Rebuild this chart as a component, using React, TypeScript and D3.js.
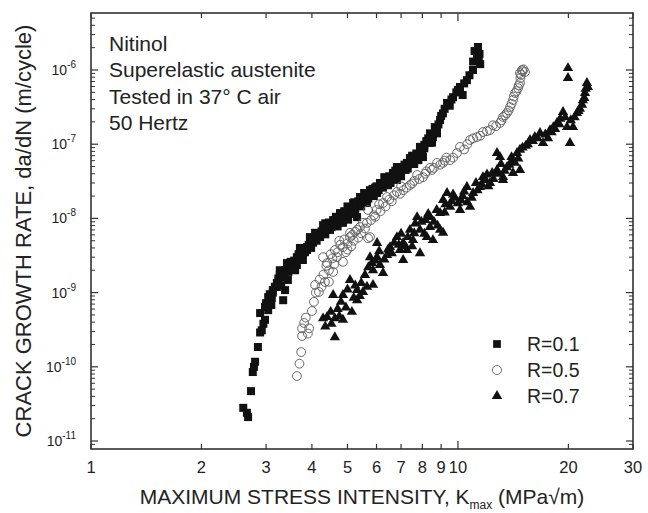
import React from 'react';
import * as d3 from 'd3';

const W = 648;
const H = 513;

const xTickValues = [1, 2, 3, 4, 5, 6, 7, 8, 9, 10, 20, 30];
const yDecadeExps = [-11, -10, -9, -8, -7, -6];
const annotationLines = ['Nitinol', 'Superelastic austenite', 'Tested in 37° C air', '50 Hertz'];
const seriesNames = ['R=0.1', 'R=0.5', 'R=0.7'];

// R = 0.1 (filled squares): Kmax (MPa√m), da/dN (m/cycle)
const r01K = [2.60, 2.68, 2.66, 2.73, 2.76, 2.78, 2.80, 2.85, 2.89, 2.92, 2.89, 2.98, 2.98, 3.04, 3.04, 3.11, 3.13, 3.13, 3.21, 3.21,
  3.27, 3.27, 3.34, 3.38, 3.44, 3.38, 3.42, 3.49, 3.55, 3.64, 3.64, 3.71, 3.71, 3.78, 3.78, 3.88, 3.88, 3.95, 4.03, 4.08,
  4.21, 4.29, 4.40, 4.48, 4.57, 4.57, 4.77, 4.77, 4.86, 5.08, 5.18, 5.31, 5.41, 5.51, 5.65, 5.76, 6.02, 6.13, 6.41, 6.65,
  6.82, 6.82, 7.09, 7.26, 7.54, 7.74, 7.88, 7.88, 8.03, 8.39, 8.39, 8.55, 8.77, 8.77, 8.94, 9.34, 9.70, 10.13, 10.58, 10.99,
  11.27, 11.34, 11.1, 11.5, 11.45, 9.1, 9.9, 10.3, 4.65, 4.95, 5.0, 5.25, 5.35, 5.6, 5.9, 5.95, 6.25, 6.3, 6.55, 6.95,
  7.2, 7.4, 7.6, 8.1, 8.2,
  2.95, 3.0, 3.07, 3.1, 3.17, 3.24, 3.3, 3.31, 3.36, 3.45, 3.5, 3.58, 3.6, 3.68, 3.75, 3.83, 3.92, 3.98, 4.0, 4.12,
  4.15, 4.25, 4.35, 4.35, 4.45, 4.52, 4.62, 4.7, 4.72, 4.82, 4.9, 5.02, 5.12, 5.15, 5.22, 5.3, 5.45, 5.48, 5.55, 5.7,
  5.75, 5.85, 6.0, 6.08, 6.2, 6.35, 6.45, 6.5, 6.7, 6.75, 6.9, 7.0, 7.15, 7.3, 7.45, 7.5, 7.7, 7.8, 8.0, 8.1,
  8.3, 8.5, 8.65, 8.85, 9.0, 9.2, 9.5, 9.6, 10.0, 10.4, 10.75, 11.0, 11.4];
const r01Rate = [2.8e-11, 2.1e-11, 2.4e-11, 4.7e-11, 8.5e-11, 1.0e-10, 1.17e-10, 1.85e-10, 2.9e-10, 3.1e-10, 5.3e-10, 4.3e-10, 6.4e-10, 5.8e-10, 8.7e-10, 8.5e-10, 1.0e-9, 1.08e-9, 1.19e-9, 1.35e-9,
  1.73e-9, 2.0e-9, 7.9e-10, 1.08e-9, 1.48e-9, 2.0e-9, 2.5e-9, 2.2e-9, 2.2e-9, 2.35e-9, 3.0e-9, 2.75e-9, 4.0e-9, 3.4e-9, 2.75e-9, 4.1e-9, 3.75e-9, 5.6e-9, 4.7e-9, 6.4e-9,
  5.6e-9, 8.1e-9, 7.0e-9, 7.0e-9, 8.1e-9, 9.5e-9, 8.9e-9, 1.18e-8, 8.7e-9, 1.3e-8, 1.61e-8, 1.04e-8, 1.94e-8, 1.94e-8, 1.61e-8, 2.4e-8, 2.2e-8, 3.0e-8, 3.3e-8, 4.1e-8,
  3.3e-8, 4.93e-8, 4.9e-8, 5.6e-8, 6.1e-8, 6.7e-8, 8.4e-8, 9.2e-8, 6.7e-8, 1.04e-7, 1.4e-7, 1.25e-7, 1.4e-7, 1.55e-7, 2.12e-7, 3.6e-7, 4.3e-7, 5.9e-7, 7.3e-7, 1.0e-6,
  1.5e-6, 2.04e-6, 1.8e-6, 1.2e-6, 1.65e-6, 2.6e-7, 5.0e-7, 4.6e-7, 1.05e-8, 1.1e-8, 1.45e-8, 1.3e-8, 1.7e-8, 2.1e-8, 2.0e-8, 2.6e-8, 2.6e-8, 3.6e-8, 3.0e-8, 4.0e-8,
  4.5e-8, 6.5e-8, 5.4e-8, 8.8e-8, 1.1e-7,
  3.8e-10, 7.2e-10, 9.5e-10, 6.8e-10, 1.2e-9, 1.55e-9, 1.25e-9, 1.85e-9, 1.6e-9, 1.9e-9, 2.6e-9, 2.7e-9, 2.0e-9, 3.3e-9, 3.1e-9, 3.5e-9, 4.4e-9, 4.0e-9, 5.3e-9, 5.0e-9,
  6.0e-9, 6.7e-9, 6.1e-9, 8.6e-9, 8.8e-9, 7.6e-9, 9.0e-9, 7.8e-9, 1.0e-8, 1.0e-8, 1.25e-8, 9.6e-9, 1.15e-8, 1.4e-8, 1.65e-8, 1.5e-8, 1.45e-8, 1.75e-8, 2.2e-8, 1.85e-8,
  2.05e-8, 2.5e-8, 2.7e-8, 2.4e-8, 2.9e-8, 3.2e-8, 2.8e-8, 3.7e-8, 3.6e-8, 4.4e-8, 4.6e-8, 3.7e-8, 5.3e-8, 4.7e-8, 5.8e-8, 7.0e-8, 7.5e-8, 6.1e-8, 7.6e-8, 9.8e-8,
  1.2e-7, 1.05e-7, 1.7e-7, 1.85e-7, 2.4e-7, 3.0e-7, 3.3e-7, 4.0e-7, 5.4e-7, 6.6e-7, 8.5e-7, 1.3e-6, 1.4e-6];

// R = 0.5 (open circles)
const r05K = [3.64, 3.74, 3.76, 3.81, 3.93, 3.76, 4.00, 4.08, 4.18, 4.34, 4.29, 4.45, 4.57, 4.62, 4.68, 4.86, 4.86, 4.75, 4.95, 5.08,
  5.08, 5.0, 5.2, 5.31, 5.41, 5.51, 5.69, 5.65, 5.76, 5.69, 5.9, 6.25, 6.41, 6.6, 6.82, 7.1, 7.40, 7.74, 8.03, 8.39,
  8.77, 9.11, 9.52, 9.94, 10.13, 10.4, 10.79, 11.27, 11.70, 12.23, 12.46, 13.02, 13.27, 13.60, 13.87, 14.13, 14.31, 14.58, 14.76, 14.76,
  15.23, 14.95, 15.1, 4.2, 4.45, 4.4, 4.55, 6.0, 6.1, 7.0, 7.6, 8.2, 8.6, 9.3,
  3.7, 3.85, 3.9, 4.05, 4.1, 4.25, 4.3, 4.38, 4.5, 4.6, 4.7, 4.78, 4.9, 5.0, 5.12, 5.15, 5.25, 5.35, 5.45, 5.58,
  5.8, 5.95, 6.15, 6.35, 6.5, 6.7, 6.95, 7.25, 7.5, 7.85, 8.15, 8.5, 8.95, 9.2, 9.7, 10.6, 11.0, 11.5, 12.0, 12.7,
  13.15, 13.45, 13.75, 14.0, 14.2, 14.45, 14.65, 14.8, 14.85, 15.0];
const r05Rate = [7.5e-11, 1.58e-10, 2.6e-10, 3.9e-10, 3.3e-10, 3.3e-10, 5.65e-10, 1.27e-9, 1.02e-9, 1.39e-9, 3.0e-9, 2.0e-9, 1.9e-9, 3.75e-9, 3.0e-9, 2.6e-9, 4.1e-9, 5.0e-9, 3.5e-9, 5.6e-9,
  6.4e-9, 4.6e-9, 5.0e-9, 7.0e-9, 7.65e-9, 8.7e-9, 5.4e-9, 8.7e-9, 5.6e-9, 1.3e-8, 1.1e-8, 1.61e-8, 1.94e-8, 1.7e-8, 2.27e-8, 2.4e-8, 2.82e-8, 3.85e-8, 3.6e-8, 4.8e-8,
  5.6e-8, 5.6e-8, 6.1e-8, 7.6e-8, 9.2e-8, 8.5e-8, 1.14e-7, 1.25e-7, 1.46e-7, 1.55e-7, 1.8e-7, 1.93e-7, 2.33e-7, 2.63e-7, 3.17e-7, 3.94e-7, 4.9e-7, 5.7e-7, 6.7e-7, 9.1e-7,
  9.4e-7, 1.0e-6, 1.02e-6, 1.5e-9, 1.4e-9, 2.5e-9, 2.9e-9, 1.3e-8, 1.55e-8, 2.7e-8, 3.2e-8, 4.3e-8, 4.8e-8, 6.6e-8,
  1.1e-10, 4.6e-10, 2.8e-10, 7.5e-10, 1.0e-9, 1.2e-9, 1.75e-9, 2.3e-9, 3.3e-9, 2.4e-9, 3.5e-9, 4.4e-9, 5.2e-9, 3.8e-9, 4.2e-9, 6.0e-9, 6.6e-9, 5.5e-9, 6.3e-9, 7.3e-9,
  9.5e-9, 1.05e-8, 1.25e-8, 1.45e-8, 1.8e-8, 2.05e-8, 2.15e-8, 2.6e-8, 2.95e-8, 3.4e-8, 4.0e-8, 4.5e-8, 5.3e-8, 6.0e-8, 6.6e-8, 1.0e-7, 1.2e-7, 1.3e-7, 1.5e-7, 1.75e-7,
  2.1e-7, 2.45e-7, 2.85e-7, 3.5e-7, 4.4e-7, 5.2e-7, 6.2e-7, 7.8e-7, 8.6e-7, 9.6e-7];

// R = 0.7 (filled triangles)
const r07K = [4.62, 4.29, 4.40, 4.62, 4.86, 4.57, 4.86, 4.7, 5.08, 5.14, 5.31, 5.31, 5.51, 5.58, 5.87, 5.76, 5.83, 5.87, 6.02, 6.02,
  6.13, 6.25, 6.41, 6.53, 6.82, 6.95, 7.09, 7.09, 7.26, 7.40, 7.54, 7.74, 7.88, 7.88, 8.23, 8.39, 8.39, 8.55, 8.94, 8.94,
  9.11, 9.11, 9.34, 9.52, 10.13, 10.58, 10.79, 11.48, 11.70, 12.23, 12.78, 12.78, 13.02, 13.27, 13.27, 13.60, 14.13, 14.13, 14.49, 14.76,
  14.76, 15.72, 16.74, 17.05, 17.82, 18.62, 19.34, 19.83, 20.59, 20.2, 21.11, 21.78, 22.2, 22.47, 22.3, 19.95, 19.95, 9.8, 10.3, 11.0,
  11.2, 12.0, 12.5, 10.0, 15.3, 16.2, 18.2, 19.0, 21.5,
  4.35, 4.5, 4.52, 4.75, 4.8, 4.95, 5.0, 5.2, 5.25, 5.4, 5.45, 5.65, 5.7, 5.95, 6.1, 6.3, 6.45, 6.6, 6.7, 6.9,
  7.0, 7.2, 7.3, 7.5, 7.6, 7.65, 7.95, 8.1, 8.15, 8.3, 8.6, 8.75, 8.8, 9.2, 9.25, 9.6, 9.7, 10.2, 10.4, 10.6,
  10.9, 11.3, 11.6, 11.9, 12.1, 12.4, 12.9, 13.1, 13.4, 13.8, 14.0, 14.3, 14.6, 15.0, 15.5, 16.0, 16.5, 17.3, 17.6, 18.0,
  18.4, 18.9, 19.6, 20.3, 20.8, 21.3, 21.9, 22.1, 22.6];
const r07Rate = [2.5e-10, 4.5e-10, 4.7e-10, 4.5e-10, 4.3e-10, 9.3e-10, 9.3e-10, 6.0e-10, 1.48e-9, 5.5e-10, 7.9e-10, 1.08e-9, 1.02e-9, 1.73e-9, 1.27e-9, 3.0e-9, 2.5e-9, 2.0e-9, 3.0e-9, 4.66e-9,
  2.35e-9, 1.84e-9, 3.2e-9, 4.1e-9, 5.6e-9, 3.75e-9, 2.75e-9, 4.66e-9, 3.75e-9, 7.0e-9, 5.1e-9, 1.04e-8, 7.0e-9, 3.4e-9, 5.6e-9, 7.65e-9, 1.04e-8, 5.1e-9, 7.0e-9, 1.18e-8,
  6.4e-9, 1.77e-8, 2.2e-8, 1.43e-8, 1.3e-8, 2.65e-8, 1.43e-8, 2.65e-8, 3.6e-8, 3.0e-8, 4.5e-8, 7.6e-8, 6.7e-8, 3.6e-8, 3.3e-8, 4.9e-8, 6.1e-8, 4.1e-8, 7.6e-8, 4.5e-8,
  8.4e-8, 1.14e-7, 1.42e-7, 1.04e-7, 1.55e-7, 1.93e-7, 2.72e-7, 1.7e-7, 1.7e-7, 1.04e-7, 2.63e-7, 3.4e-7, 4.9e-7, 6.7e-7, 5.6e-7, 1.06e-6, 7.8e-7, 1.9e-8, 2.0e-8, 2.2e-8,
  3.0e-8, 3.9e-8, 3.4e-8, 1.6e-8, 9.5e-8, 1.25e-7, 1.7e-7, 2.2e-7, 3.0e-7,
  3.5e-10, 5.5e-10, 3.8e-10, 4.8e-10, 7.5e-10, 6.3e-10, 1.1e-9, 8.5e-10, 1.25e-9, 9.0e-10, 1.35e-9, 1.2e-9, 2.2e-9, 2.7e-9, 3.6e-9, 2.8e-9, 3.8e-9, 3.4e-9, 4.7e-9, 4.4e-9,
  6.2e-9, 4.2e-9, 5.6e-9, 4.2e-9, 6.3e-9, 8.5e-9, 9.0e-9, 6.2e-9, 9.5e-9, 1.15e-8, 9.0e-9, 1.3e-8, 8.0e-9, 1.2e-8, 1.55e-8, 1.7e-8, 2.1e-8, 1.75e-8, 2.3e-8, 1.65e-8,
  1.9e-8, 2.4e-8, 2.9e-8, 3.3e-8, 2.7e-8, 4.1e-8, 4.0e-8, 5.4e-8, 4.4e-8, 5.3e-8, 6.7e-8, 5.6e-8, 6.4e-8, 9.0e-8, 1.0e-7, 1.1e-7, 1.2e-7, 1.35e-7, 1.2e-7, 1.45e-7,
  1.6e-7, 1.85e-7, 2.3e-7, 2.1e-7, 2.3e-7, 2.8e-7, 3.9e-7, 4.2e-7, 5.9e-7];

const FONT = '"Liberation Sans", Arial, Helvetica, sans-serif';

export default function App() {
  const left = 91, right = 633, top = 13, bottom = 449;
  const x = d3.scaleLog().domain([1, 30]).range([left, right]);
  const y = d3.scaleLog().domain([Math.pow(10, -11.1078), Math.pow(10, -5.2318)]).range([bottom, top]);

  const sq = d3.symbol().type(d3.symbolSquare).size(64)();
  const tri = d3.symbol().type(d3.symbolTriangle).size(46)();
  const sqLeg = d3.symbol().type(d3.symbolSquare).size(60)();
  const triLeg = d3.symbol().type(d3.symbolTriangle).size(48)();

  const ink = '#111';
  const axisColor = '#333';
  const textColor = '#222';

  const yMinor: number[] = [];
  for (let e = -12; e <= -6; e++) {
    for (let m = 2; m <= 9; m++) {
      const v = m * Math.pow(10, e);
      const py = y(v);
      if (py > top + 1 && py < bottom - 1) yMinor.push(v);
    }
  }

  const r01 = r01K.map((k, i) => [k, r01Rate[i]]);
  const r05 = r05K.map((k, i) => [k, r05Rate[i]]);
  const r07 = r07K.map((k, i) => [k, r07Rate[i]]);

  return (
    <svg width={W} height={H} style={{ position: 'absolute', left: 0, top: 0, background: '#fff' }} fontFamily={FONT}>
      <rect x={0} y={0} width={W} height={H} fill="#fff" />
      <g>
        {r01.map((d, i) => (
          <path key={'s' + i} d={sq} transform={`translate(${x(d[0])},${y(d[1])})`} fill={ink} />
        ))}
        {r05.map((d, i) => (
          <circle key={'c' + i} cx={x(d[0])} cy={y(d[1])} r={4.4} fill="none" stroke="#666" strokeWidth={1} />
        ))}
        {r07.map((d, i) => (
          <path key={'t' + i} d={tri} transform={`translate(${x(d[0])},${y(d[1])})`} fill={ink} />
        ))}
      </g>

      <rect x={left} y={top} width={right - left} height={bottom - top} fill="none" stroke={axisColor} strokeWidth={1.6} />

      {xTickValues.map((t) => {
        const px = x(t);
        const len = t === 10 ? 8 : 5;
        return (
          <g key={'xt' + t}>
            <line x1={px} x2={px} y1={bottom} y2={bottom - len} stroke={axisColor} strokeWidth={1.2} />
            <line x1={px} x2={px} y1={top} y2={top + len} stroke={axisColor} strokeWidth={1.2} />
            <text x={px} y={473} textAnchor="middle" fontSize={16.5} fill={textColor}>{t}</text>
          </g>
        );
      })}

      {yDecadeExps.map((e) => {
        const py = y(Math.pow(10, e));
        return (
          <g key={'yt' + e}>
            <line x1={left} x2={left + 7} y1={py} y2={py} stroke={axisColor} strokeWidth={1.2} />
            <line x1={right} x2={right - 7} y1={py} y2={py} stroke={axisColor} strokeWidth={1.2} />
            <text x={76} y={py + 5} textAnchor="end" fontSize={14} fill={textColor}>
              10<tspan dy={-7} fontSize={10}>{String(e)}</tspan>
            </text>
          </g>
        );
      })}
      {yMinor.map((v, i) => {
        const py = y(v);
        return (
          <g key={'ym' + i}>
            <line x1={left} x2={left + 4} y1={py} y2={py} stroke={axisColor} strokeWidth={1} />
            <line x1={right} x2={right - 4} y1={py} y2={py} stroke={axisColor} strokeWidth={1} />
          </g>
        );
      })}

      <text x={(left + right) / 2} y={504} textAnchor="middle" fontSize={21} fill={textColor}>
        MAXIMUM STRESS INTENSITY, K<tspan dy={5} fontSize={12}>max</tspan><tspan dy={-5}> (MPa√m)</tspan>
      </text>
      <text transform={`translate(31,${(top + bottom) / 2}) rotate(-90)`} textAnchor="middle" fontSize={22} fill={textColor}>
        CRACK GROWTH RATE, da/dN (m/cycle)
      </text>

      {annotationLines.map((s, i) => (
        <text key={'a' + i} x={109} y={51 + i * 26.4} fontSize={21} fill={textColor}>{s}</text>
      ))}

      <g>
        <path d={sqLeg} transform="translate(497,344)" fill={ink} />
        <circle cx={497} cy={370} r={4.6} fill="none" stroke="#777" strokeWidth={1} />
        <path d={triLeg} transform="translate(497,396)" fill={ink} />
        {seriesNames.map((s, i) => (
          <text key={'l' + i} x={527} y={350.5 + i * 26.3} fontSize={19.5} fill={textColor}>{s}</text>
        ))}
      </g>
    </svg>
  );
}
